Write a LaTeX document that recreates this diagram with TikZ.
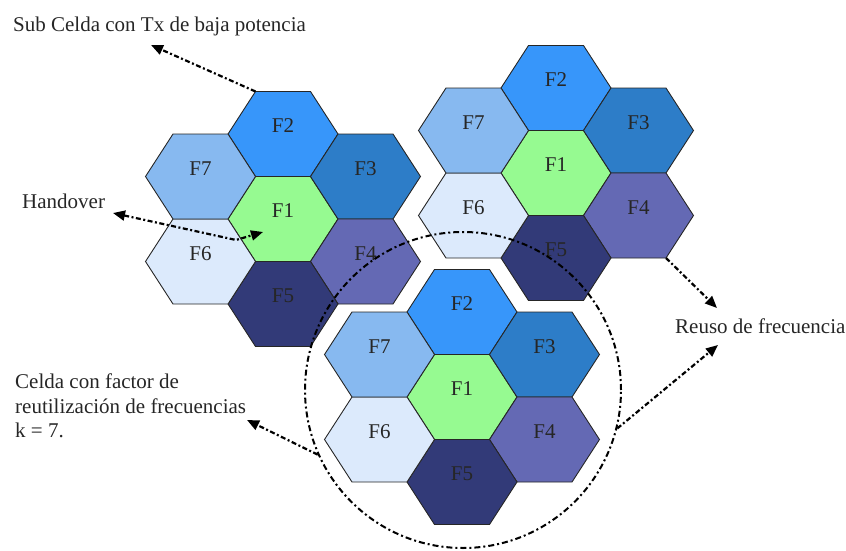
\documentclass[tikz,border=0pt]{standalone}
\usepackage{fontspec}
\setmainfont{Liberation Serif}
\usetikzlibrary{arrows.meta,positioning,calc}
\definecolor{cellOne}{RGB}{150,250,145}
\definecolor{cellTwo}{RGB}{55,150,250}
\definecolor{cellThree}{RGB}{45,125,200}
\definecolor{cellFour}{RGB}{100,105,180}
\definecolor{cellFive}{RGB}{50,58,120}
\definecolor{cellSix}{RGB}{220,234,252}
\definecolor{cellSeven}{RGB}{135,185,240}

\begin{document}
\begin{tikzpicture}[x=1pt,y=-1pt,
    cell/.style={draw=black!85,line width=0.9pt},
    cellnum/.style={font=\fontsize{21}{21}\selectfont,text=black!85,inner sep=0pt},
    note/.style={font=\fontsize{21}{24.5}\selectfont,align=left,inner sep=0pt,text=black!85},
    callout/.style={line width=2.2pt,dash pattern=on 5pt off 2.5pt on 2pt off 2.5pt,
                    -{Triangle[length=12pt,width=10pt]}},
    ring/.style={circle,draw,line width=2pt,inner sep=0pt,
                 dash pattern=on 6pt off 3pt on 2pt off 3pt}]

    \useasboundingbox (0,0) rectangle (846,551);

    % Cluster left
    \begin{scope}[shift={(283,219)}]
      \foreach \k/\dx/\dy/\col in {1/0/0/cellOne,2/0/-2/cellTwo,3/1.5/-1/cellThree,
          4/1.5/1/cellFour,5/0/2/cellFive,6/-1.5/1/cellSix,7/-1.5/-1/cellSeven} {
        \filldraw[cell,fill=\col] ({\dx*55-55},{\dy*42.5}) -- ++(27.5,42.5) -- ++(55,0)
          -- ++(27.5,-42.5) -- ++(-27.5,-42.5) -- ++(-55,0) -- cycle;
        \node[cellnum] (a\k) at ({\dx*55},{\dy*42.5-8}) {F\k};
      }
      \coordinate (subfrom) at (-27.5,-127.5);
      \coordinate (hojunc) at (-47,21);
      \coordinate (hoend) at (-20,13);
    \end{scope}

    % Cluster right
    \begin{scope}[shift={(556,173)}]
      \foreach \k/\dx/\dy/\col in {1/0/0/cellOne,2/0/-2/cellTwo,3/1.5/-1/cellThree,
          4/1.5/1/cellFour,5/0/2/cellFive,6/-1.5/1/cellSix,7/-1.5/-1/cellSeven} {
        \filldraw[cell,fill=\col] ({\dx*55-55},{\dy*42.5}) -- ++(27.5,42.5) -- ++(55,0)
          -- ++(27.5,-42.5) -- ++(-27.5,-42.5) -- ++(-55,0) -- cycle;
        \node[cellnum] (b\k) at ({\dx*55},{\dy*42.5-8}) {F\k};
      }
      \coordinate (reufrom) at (110,85);
    \end{scope}

    % Cluster bottom
    \begin{scope}[shift={(462,397)}]
      \foreach \k/\dx/\dy/\col in {1/0/0/cellOne,2/0/-2/cellTwo,3/1.5/-1/cellThree,
          4/1.5/1/cellFour,5/0/2/cellFive,6/-1.5/1/cellSix,7/-1.5/-1/cellSeven} {
        \filldraw[cell,fill=\col] ({\dx*55-55},{\dy*42.5}) -- ++(27.5,42.5) -- ++(55,0)
          -- ++(27.5,-42.5) -- ++(-27.5,-42.5) -- ++(-55,0) -- cycle;
        \node[cellnum] (c\k) at ({\dx*55},{\dy*42.5-8}) {F\k};
      }
    \end{scope}

    % Reuse circle
    \node[ring,minimum size=316pt] (reach) at (463,390) {};

    % Texts
    \node[note,anchor=base west] (sub) at (13,32) {Sub Celda con Tx de baja potencia};
    \node[note,anchor=base west] (hand) at (22,208) {Handover};
    \node[note,anchor=base west] (reuso) at (675,333) {Reuso de frecuencia};
    \node[note,anchor=north west] (celda) at (15,374)
      {Celda con factor de\\reutilización de frecuencias\\k = 7.};

    \coordinate (subtip) at (151,45);
    \coordinate (hotip) at (113,213);
    \coordinate (reutipa) at (717,308);
    \coordinate (reutipb) at (718,345);
    \coordinate (celdatip) at (247,420);

    % Arrows
    \draw[callout] (subfrom) -- (subtip);
    \draw[callout,{Triangle[length=12pt,width=10pt]}-{Triangle[length=12pt,width=10pt]}]
      (hotip) -- (hojunc) -- (hoend);
    \draw[callout] (reufrom) -- (reutipa);
    \draw[callout] (reach.-14) -- (reutipb);
    \draw[callout] (reach.204) -- (celdatip);
\end{tikzpicture}
\end{document}
